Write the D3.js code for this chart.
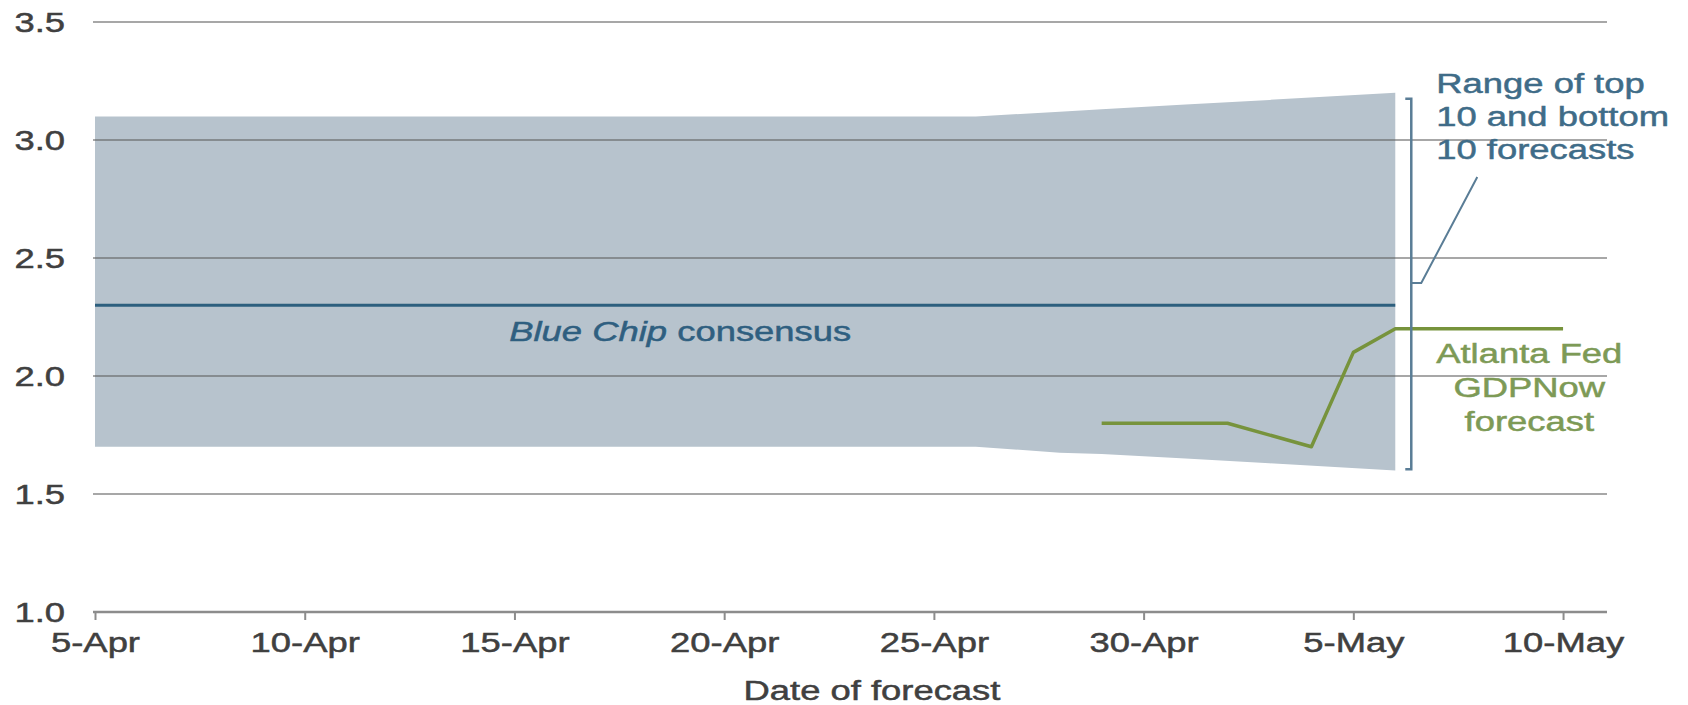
<!DOCTYPE html>
<html><head><meta charset="utf-8">
<script src="https://cdn.jsdelivr.net/npm/d3@7"></script>
<style>html,body{margin:0;padding:0;background:#fff}svg{display:block}</style>
</head><body><svg id="c" width="1688" height="705"></svg>
<script>
// ---- data ----
const bandDates   = ["2019-04-05","2019-04-26","2019-04-28","2019-04-29","2019-05-01","2019-05-03","2019-05-06"];
const bandTop     = [3.10, 3.10, 3.12, 3.13, 3.15, 3.17, 3.20];
const bandBottom  = [1.70, 1.70, 1.675, 1.67, 1.65, 1.63, 1.60];
const blueChipDates  = ["2019-04-05","2019-05-06"];
const blueChipValues = [2.3, 2.3];
const gdpNowDates  = ["2019-04-29","2019-05-02","2019-05-04","2019-05-05","2019-05-06","2019-05-10"];
const gdpNowValues = [1.8, 1.8, 1.7, 2.1, 2.2, 2.2];
const yTicks = [1.0, 1.5, 2.0, 2.5, 3.0, 3.5];
const yTickLabels = ["1.0","1.5","2.0","2.5","3.0","3.5"];
const xTickDates  = ["2019-04-05","2019-04-10","2019-04-15","2019-04-20","2019-04-25","2019-04-30","2019-05-05","2019-05-10"];
const xTickLabels = ["5-Apr","10-Apr","15-Apr","20-Apr","25-Apr","30-Apr","5-May","10-May"];
const xDomain = ["2019-04-05","2019-05-11"];
const xTitle = "Date of forecast";
const rangeLabel = ["Range of top","10 and bottom","10 forecasts"];
const gdpLabel = ["Atlanta Fed","GDPNow","forecast"];
const bracketRange = [1.605, 3.175];
const leaderValues = [2.394, 2.394, 2.843];

// ---- setup ----
const parse = d3.timeParse("%Y-%m-%d");
const svg = d3.select("#c");
const SX = 1.3; // horizontal text stretch
const FONT = "'Liberation Sans', Arial, sans-serif";
const x = d3.scaleTime().domain(xDomain.map(parse)).range([95, 1605]);
const y = d3.scaleLinear().domain([1.0, 3.5]).range([612, 22]);

const band = bandDates.map((d,i)=>({date:parse(d), hi:bandTop[i], lo:bandBottom[i]}));
const blue = blueChipDates.map((d,i)=>({date:parse(d), v:blueChipValues[i]}));
const green = gdpNowDates.map((d,i)=>({date:parse(d), v:gdpNowValues[i]}));

function styleText(sel, color) {
  sel.attr("fill", color).attr("stroke", color).attr("stroke-width", 0.5)
    .style("font-family", FONT).style("font-size", "28px");
  return sel;
}

// band
svg.append("path").datum(band)
  .attr("d", d3.area().x(d=>x(d.date)).y0(d=>y(d.lo)).y1(d=>y(d.hi)))
  .attr("fill", "#b7c3cd");

// gridlines
const [x0, x1] = x.range();
svg.append("g").selectAll("line").data(yTicks.filter(v=>v>1.0)).join("line")
  .attr("x1", x0-2).attr("x2", x1+2)
  .attr("y1", d=>y(d)).attr("y2", d=>y(d))
  .attr("stroke", "#5f5f5f").attr("stroke-opacity", 0.55).attr("stroke-width", 2);

// x axis
const xAxis = d3.axisBottom(x)
  .tickValues(xTickDates.map(parse))
  .tickFormat((d,i)=>xTickLabels[i])
  .tickSize(8).tickSizeOuter(0);
const gx = svg.append("g").attr("transform", `translate(0,${y(1.0)})`).call(xAxis);
gx.select(".domain").attr("stroke", "#8c8c8c").attr("stroke-width", 2.5)
  .attr("d", `M${x0-2},0H${x1+2}`);
gx.selectAll(".tick line").attr("stroke", "#8c8c8c").attr("stroke-width", 2);
styleText(gx.selectAll(".tick text")
  .attr("y", 40).attr("dy", 0)
  .attr("transform", `scale(${SX},1)`), "#404040");

// y labels
styleText(svg.append("g").selectAll("text").data(yTicks).join("text")
  .attr("transform", d=>`translate(65,${y(d)+10}) scale(${SX},1)`)
  .attr("text-anchor", "end")
  .text((d,i)=>yTickLabels[i]), "#404040");

// x title
styleText(svg.append("text")
  .attr("transform", `translate(${x(parse("2019-04-24"))-20},700) scale(${SX},1)`)
  .attr("text-anchor", "middle")
  .text(xTitle), "#404040");

// blue chip line
svg.append("path").datum(blue)
  .attr("d", d3.line().x(d=>x(d.date)).y(d=>y(d.v)))
  .attr("fill", "none").attr("stroke", "#2d5f7e").attr("stroke-width", 3);

// GDPNow line
svg.append("path").datum(green)
  .attr("d", d3.line().x(d=>x(d.date)).y(d=>y(d.v)))
  .attr("fill", "none").attr("stroke", "#77933c").attr("stroke-width", 3.5)
  .attr("stroke-linejoin", "round");

// Blue Chip label
const bc = styleText(svg.append("text")
  .attr("transform", `translate(${x(parse("2019-04-19"))-2},${y(2.3)+36}) scale(${SX},1)`)
  .attr("text-anchor", "middle"), "#2f5f80");
bc.append("tspan").style("font-style", "italic").text("Blue Chip");
bc.append("tspan").text(" consensus");

// bracket
const bx = x(parse("2019-05-06")) + 16;
svg.append("path")
  .attr("d", `M${bx-6},${y(bracketRange[1])}H${bx}V${y(bracketRange[0])}H${bx-6}`)
  .attr("fill", "none").attr("stroke", "#5a7d96").attr("stroke-width", 2.5);
// leader
svg.append("path")
  .attr("d", d3.line()([[bx, y(leaderValues[0])],[bx+10, y(leaderValues[1])],[bx+66, y(leaderValues[2])]]))
  .attr("fill", "none").attr("stroke", "#5a7d96").attr("stroke-width", 2);

// range label
styleText(svg.append("g").selectAll("text").data(rangeLabel).join("text")
  .attr("transform", (d,i)=>`translate(${bx+25},${93+i*33}) scale(${SX},1)`)
  .text(d=>d), "#3f6c88");

// GDPNow label
styleText(svg.append("g").selectAll("text").data(gdpLabel).join("text")
  .attr("transform", (d,i)=>`translate(${bx+118},${363+i*34}) scale(${SX},1)`)
  .attr("text-anchor", "middle")
  .text(d=>d), "#7d9a56");
</script>
</body></html>
